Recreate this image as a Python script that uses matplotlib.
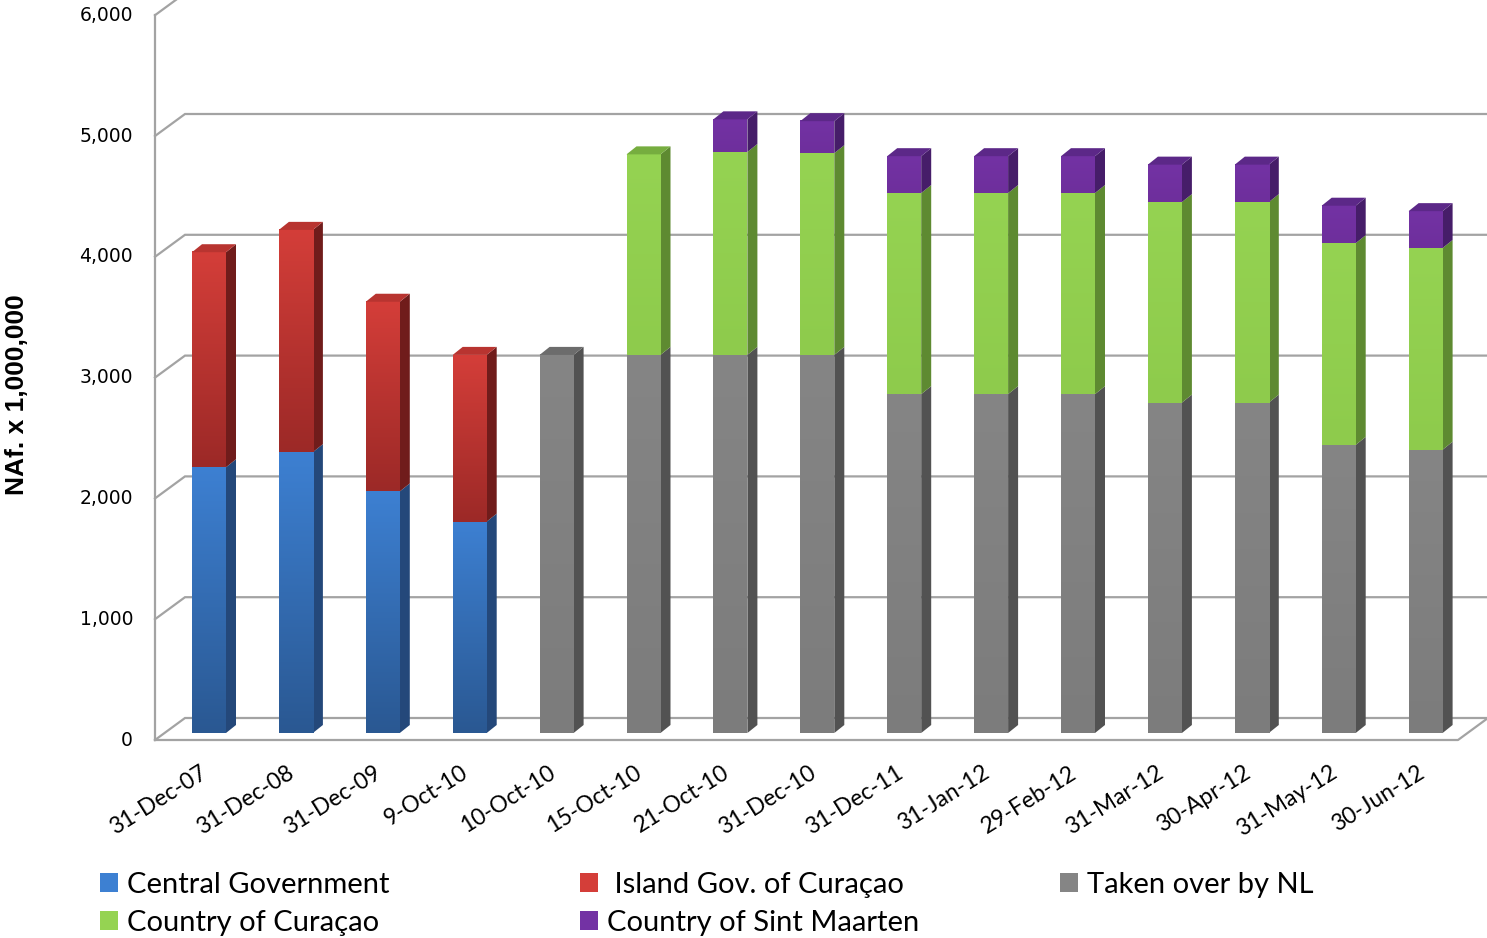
import numpy as np
import matplotlib
matplotlib.use("Agg")
import matplotlib.pyplot as plt
from matplotlib.patches import Patch, Polygon
from matplotlib.colors import LinearSegmentedColormap

# ---------------- data ----------------
dates = ["31-Dec-07", "31-Dec-08", "31-Dec-09", "9-Oct-10", "10-Oct-10",
         "15-Oct-10", "21-Oct-10", "31-Dec-10", "31-Dec-11", "31-Jan-12",
         "29-Feb-12", "31-Mar-12", "30-Apr-12", "31-May-12", "30-Jun-12"]
central_gov = [2200, 2325, 2000, 1750, 0, 0, 0, 0, 0, 0, 0, 0, 0, 0, 0]
island_gov = [1780, 1840, 1570, 1380, 0, 0, 0, 0, 0, 0, 0, 0, 0, 0, 0]
taken_nl = [0, 0, 0, 0, 3130, 3130, 3130, 3130, 2805, 2805, 2805, 2735, 2735, 2385, 2345]
country_cur = [0, 0, 0, 0, 0, 1660, 1680, 1670, 1665, 1665, 1665, 1660, 1660, 1670, 1670]
country_sxm = [0, 0, 0, 0, 0, 0, 270, 265, 305, 305, 305, 310, 310, 310, 305]
yticks = [0, 1000, 2000, 3000, 4000, 5000, 6000]
ytick_labels = ["0", "1,000", "2,000", "3,000", "4,000", "5,000", "6,000"]

labels = ["Central Government", " Island Gov. of Curaçao", "Taken over by NL",
          "Country of Curaçao", "Country of Sint Maarten"]
series = [central_gov, island_gov, taken_nl, country_cur, country_sxm]
# (front light, front dark, side, top)
styles = [
    ("#3D80D2", "#2A5892", "#24487A", "#3570B8"),
    ("#D43E39", "#9C2927", "#701C1B", "#B83430"),
    ("#858585", "#7C7C7C", "#525252", "#6C6C6C"),
    ("#95D352", "#8ECB4C", "#5E8A31", "#76AD3F"),
    ("#7332A4", "#6E2F9C", "#461D69", "#5C2888"),
]

# ---------------- geometry (pixels -> data) ----------------
W, H = 1487, 938
BAR0_PX, STEP_PX = 209.0, 86.9
ZERO_PY, PX_PER_UNIT = 733.0, 0.1208


def X(px):
    return (px - BAR0_PX) / STEP_PX


def Y(py):
    return (ZERO_PY - py) / PX_PER_UNIT


bar_w = 34 / STEP_PX
dx, dy = 10 / STEP_PX, 8 / PX_PER_UNIT
front_off = -7 / PX_PER_UNIT     # front wall plane
back_off = 15 / PX_PER_UNIT      # back wall plane

fig = plt.figure(figsize=(W / 100, H / 100), dpi=100)
ax = fig.add_axes([0, 0, 1, 1])
ax.set_axis_off()

grid_c = "#A3A3A3"
# back wall gridlines + left wall
for v in yticks:
    ax.plot([X(155), X(185), X(1500)], [v + front_off, v + back_off, v + back_off],
            color=grid_c, lw=1.6, zorder=1, solid_joinstyle="miter")
# left wall front edge
ax.plot([X(155), X(155)], [front_off, 6000 + front_off], color=grid_c, lw=1.6, zorder=1)
# floor front edge and right edge
ax.plot([X(155), X(1458), X(1488)], [front_off, front_off, back_off],
        color=grid_c, lw=1.6, zorder=1)

grad = np.linspace(1, 0, 256)[:, None]
for i in range(len(dates)):
    bottom = 0
    x0, x1 = i - bar_w / 2, i + bar_w / 2
    top_color = None
    for vals, (fl, fd, sc, tc) in zip(series, styles):
        h = vals[i]
        if h <= 0:
            continue
        b, t = bottom, bottom + h
        cmap = LinearSegmentedColormap.from_list("g", [fd, fl])
        ax.imshow(grad, extent=[x0, x1, b, t], cmap=cmap, aspect="auto",
                  interpolation="bilinear", zorder=3, vmin=0, vmax=1)
        ax.add_patch(Polygon([(x1, b), (x1 + dx, b + dy), (x1 + dx, t + dy), (x1, t)],
                             closed=True, fc=sc, ec="none", zorder=2.9))
        bottom = t
        top_color = tc
    if top_color is not None:
        ax.add_patch(Polygon([(x0, bottom), (x1, bottom), (x1 + dx, bottom + dy),
                              (x0 + dx, bottom + dy)],
                             closed=True, fc=top_color, ec="none", zorder=3.1))
    # category label
    ax.text(i + X(200) - X(BAR0_PX), Y(762), dates[i], rotation=32,
            rotation_mode="anchor", ha="right", va="top",
            fontsize=16.5, family="Lato", color="#000000")

# y tick labels on front plane
for v, lab in zip(yticks, ytick_labels):
    ax.text(X(133), v + front_off, lab, ha="right", va="center",
            fontsize=13.5, family="DejaVu Sans", color="#000000")

ax.set_xlim(X(0), X(W))
ax.set_ylim(Y(H), Y(0))

fig.text(17 / W, 1 - 395 / H, "NAf. x 1,000,000", rotation=90, ha="center",
         va="center", fontsize=19, fontweight="bold", family="Liberation Sans")

# legend: three columns
handles = [Patch(facecolor=s[0], edgecolor="none") for s in styles]
cols = [([0, 3], 100), ([1, 4], 580), ([2], 1060)]
for idx, xpx in cols:
    leg = fig.legend([handles[k] for k in idx], [labels[k] for k in idx],
                     loc="upper left", bbox_to_anchor=(xpx / W, 1 - 872 / H),
                     frameon=False, borderpad=0, borderaxespad=0,
                     handlelength=0.62, handleheight=0.62, handletextpad=0.32,
                     labelspacing=0.4, prop={"family": "Lato", "size": 21})

fig.savefig("out.png", dpi=100)
